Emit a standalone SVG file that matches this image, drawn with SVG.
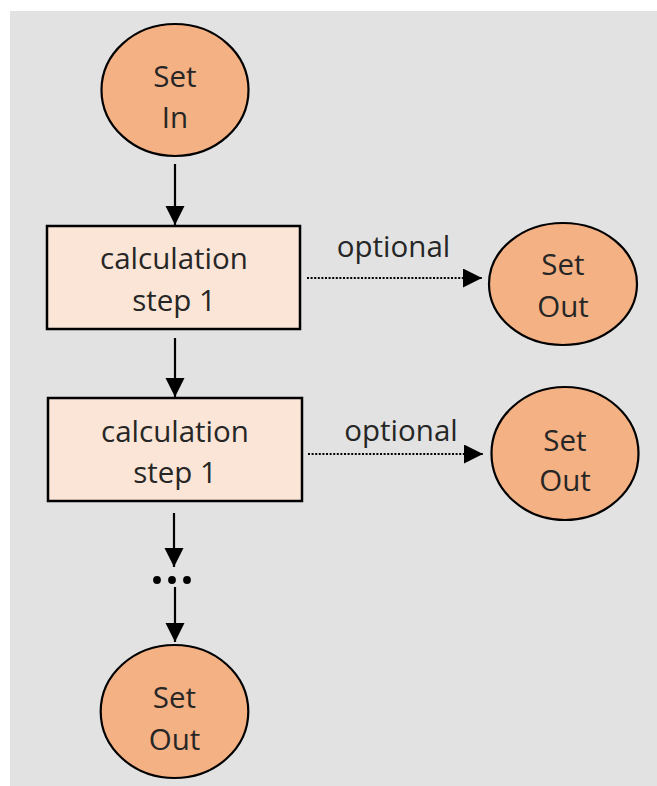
<svg xmlns="http://www.w3.org/2000/svg" width="657" height="786" viewBox="0 0 657 786">
  <style>
    .set { fill: #F4B183; stroke: #000; stroke-width: 2.2; }
    .step { fill: #FBE5D6; stroke: #000; stroke-width: 2.5; }
    .lbl { font-family: "Open Sans", "Noto Sans", sans-serif; font-size: 29.5px; fill: #262626; text-anchor: middle; }
    .flow { stroke: #000; stroke-width: 2.2; fill: none; marker-end: url(#head); }
    .opt { stroke: #000; stroke-width: 2; stroke-dasharray: 2 1.6; fill: none; marker-end: url(#head); }
  </style>
  <defs>
    <marker id="head" markerUnits="userSpaceOnUse" markerWidth="20" markerHeight="20" refX="19" refY="9.5" orient="auto">
      <path d="M0,0 L19,9.5 L0,19 Z" fill="#000"/>
    </marker>
  </defs>

  <!-- canvas -->
  <rect x="10" y="11" width="647" height="775" fill="#E2E2E2"/>

  <g id="set-in">
    <ellipse class="set" cx="175" cy="90" rx="73.5" ry="66"/>
    <text class="lbl" x="175" y="87">Set</text>
    <text class="lbl" x="175" y="128">In</text>
  </g>

  <g id="step-a">
    <rect class="step" x="47" y="226" width="253" height="103"/>
    <text class="lbl" x="174" y="269">calculation</text>
    <text class="lbl" x="174" y="311">step 1</text>
  </g>

  <g id="set-out-a">
    <ellipse class="set" cx="563" cy="284" rx="74" ry="61"/>
    <text class="lbl" x="563" y="275">Set</text>
    <text class="lbl" x="563" y="317">Out</text>
  </g>

  <g id="step-b">
    <rect class="step" x="48" y="398" width="254" height="103"/>
    <text class="lbl" x="175" y="442">calculation</text>
    <text class="lbl" x="175" y="483">step 1</text>
  </g>

  <g id="set-out-b">
    <ellipse class="set" cx="565" cy="453.5" rx="73.5" ry="66.5"/>
    <text class="lbl" x="565" y="451">Set</text>
    <text class="lbl" x="565" y="491">Out</text>
  </g>

  <g id="set-out-final">
    <ellipse class="set" cx="174.5" cy="711.5" rx="73.8" ry="66.5"/>
    <text class="lbl" x="174.5" y="708">Set</text>
    <text class="lbl" x="174.5" y="750">Out</text>
  </g>

  <g id="connectors">
    <line class="flow" x1="175" y1="164" x2="175" y2="225"/>
    <line class="flow" x1="175" y1="338" x2="175" y2="397"/>
    <line class="flow" x1="174" y1="513" x2="174" y2="567"/>
    <line class="flow" x1="175" y1="587" x2="175" y2="642"/>
    <line class="opt" x1="307" y1="278" x2="482" y2="278"/>
    <line class="opt" x1="308" y1="454" x2="483" y2="454"/>
    <text class="lbl" x="393.5" y="257">optional</text>
    <text class="lbl" x="401" y="441">optional</text>
    <!-- ellipsis between the step chain and the final output -->
    <circle cx="157" cy="580" r="3.9" fill="#000"/>
    <circle cx="172" cy="580" r="3.9" fill="#000"/>
    <circle cx="187" cy="580" r="3.9" fill="#000"/>
  </g>
</svg>
